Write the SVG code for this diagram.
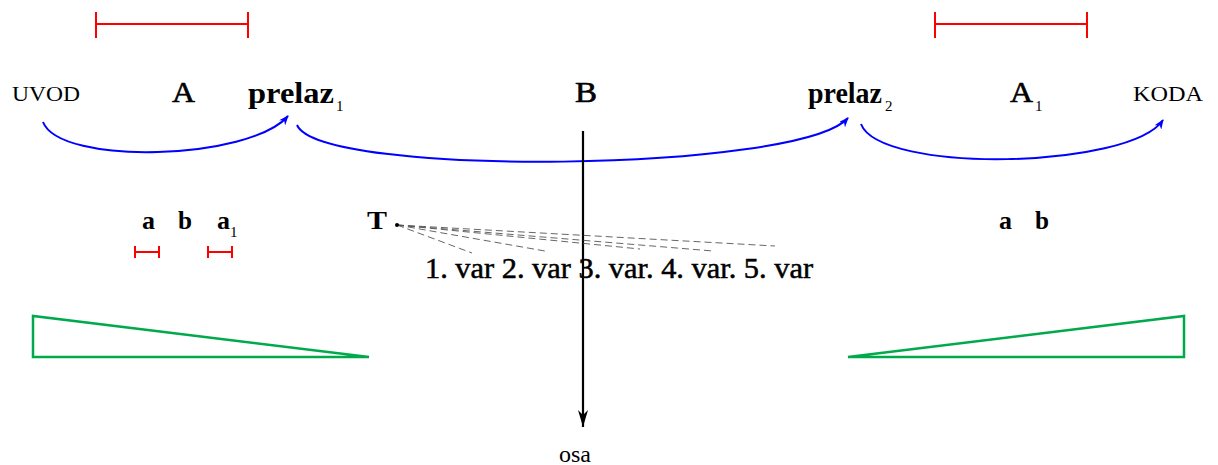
<svg xmlns="http://www.w3.org/2000/svg" width="1218" height="465" viewBox="0 0 1218 465">
<style>
text{font-family:"Liberation Serif","Times New Roman",serif;fill:#000}
.sm{font-size:21px}
.big{font-size:29px}
.bold{font-weight:bold}
.mid{font-size:26px}
.sub{font-size:15px}
.thick{stroke:#000;stroke-width:0.6}
.red{stroke:#ff0000;stroke-width:2;fill:none}
.green{stroke:#00aa4c;stroke-width:2.5;fill:none}
.arc{stroke:#0000ff;stroke-width:2;fill:none;marker-end:url(#ba)}
.dash{stroke:#555;stroke-width:0.9;stroke-dasharray:7,4;fill:none}
</style>
<defs>
<marker id="ba" markerWidth="10" markerHeight="8" refX="9" refY="4" orient="auto" markerUnits="userSpaceOnUse">
<path d="M0,0 L10,4 L0,8 L3,4 Z" fill="#0000ff"/>
</marker>
<marker id="ka" markerWidth="10" markerHeight="18" refX="5" refY="17" orient="0" markerUnits="userSpaceOnUse">
<path d="M0,0 L5,17 L10,0 L5,5 Z" fill="#000"/>
</marker>
</defs>
<g id="bar-A"><path class="red" d="M96,24 H248 M96,12 V38 M248,12 V38"/></g>
<g id="bar-A1"><path class="red" d="M935,24 H1087 M935,12 V38 M1087,12 V38"/></g>
<g id="uvod"><text class="sm" x="12" y="101" textLength="68" lengthAdjust="spacingAndGlyphs">UVOD</text></g>
<g id="A"><text class="big thick" x="172" y="102" textLength="23" lengthAdjust="spacingAndGlyphs">A</text></g>
<g id="prelaz1"><text class="big bold" x="248" y="103" textLength="86" lengthAdjust="spacingAndGlyphs">prelaz</text><text class="sub" x="336" y="111">1</text></g>
<g id="B"><text class="big thick" x="575" y="102" textLength="22" lengthAdjust="spacingAndGlyphs">B</text></g>
<g id="prelaz2"><text class="big bold" x="808" y="103" textLength="74" lengthAdjust="spacingAndGlyphs">prelaz</text><text class="sub" x="885" y="111">2</text></g>
<g id="A1"><text class="big thick" x="1010" y="102" textLength="23" lengthAdjust="spacingAndGlyphs">A</text><text class="sub" x="1035" y="111">1</text></g>
<g id="koda"><text class="sm" x="1133" y="101" textLength="70" lengthAdjust="spacingAndGlyphs">KODA</text></g>
<g id="connectors">
<path class="arc" d="M43,122 C60,166 250,160 288,116"/>
<path class="arc" d="M297,125 C320,178 800,172 848,118"/>
<path class="arc" d="M861,124 C880,174 1130,169 1163,120"/>
<path d="M583,131 V427" stroke="#000" stroke-width="2.2" fill="none" marker-end="url(#ka)"/>
<path class="dash" d="M397,225 L472,253 M397,225 L545,251 M397,225 L640,249 M397,225 L713,251 M397,225 L775,246"/>
</g>
<g id="ab-left">
<text class="mid bold" x="142" y="229" textLength="13" lengthAdjust="spacingAndGlyphs">a</text>
<text class="mid bold" x="178" y="229" textLength="14" lengthAdjust="spacingAndGlyphs">b</text>
<text class="mid bold" x="217" y="229" textLength="13" lengthAdjust="spacingAndGlyphs">a</text><text class="sub" x="230" y="237">1</text>
<path class="red" d="M135,252 H159 M135,246 V258 M159,246 V258"/>
<path class="red" d="M208,252 H232 M208,246 V258 M232,246 V258"/>
</g>
<g id="T"><text class="mid bold" x="367" y="229" textLength="20" lengthAdjust="spacingAndGlyphs">T</text><circle cx="397" cy="225" r="2" fill="#000"/></g>
<g id="variants"><text class="thick" x="425" y="278" style="font-size:29px;stroke-width:0.5" textLength="388" lengthAdjust="spacingAndGlyphs">1. var 2. var 3. var. 4. var. 5. var</text></g>
<g id="ab-right">
<text class="mid bold" x="999" y="229" textLength="13" lengthAdjust="spacingAndGlyphs">a</text>
<text class="mid bold" x="1035" y="229" textLength="14" lengthAdjust="spacingAndGlyphs">b</text>
</g>
<g id="tri-left"><polygon class="green" points="33,316 33,357 369,357"/></g>
<g id="tri-right"><polygon class="green" points="848,357 1184,316 1184,357"/></g>
<g id="osa"><text x="559" y="462" style="font-size:24px">osa</text></g>
</svg>
